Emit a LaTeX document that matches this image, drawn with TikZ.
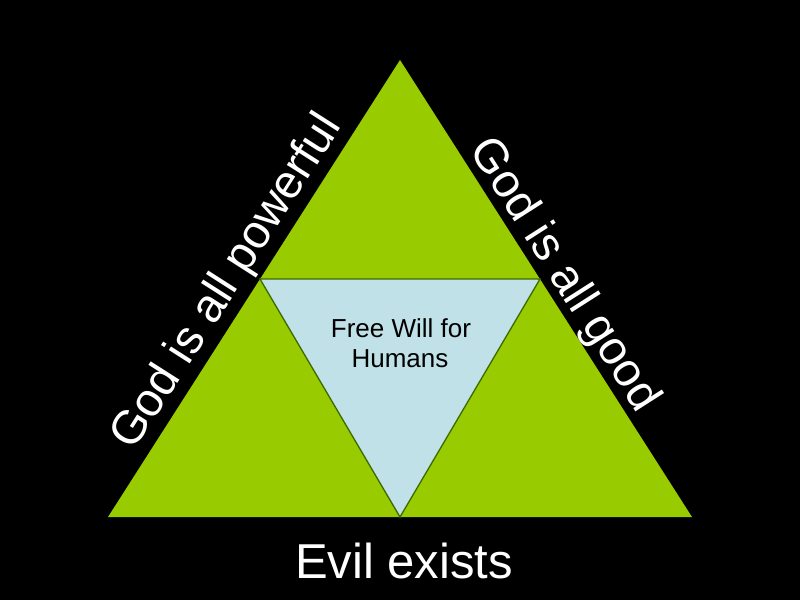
\documentclass[tikz,border=0pt]{standalone}
\usepackage{fontspec}
\setmainfont{Liberation Sans}
\definecolor{trigreen}{HTML}{99CC00}
\definecolor{triblue}{HTML}{C0E1E7}
\definecolor{edgegreen}{HTML}{3A6A00}
\begin{document}
\begin{tikzpicture}[x=1pt,y=-1pt,
  bigtext/.style={text=white,inner sep=0pt,anchor=base,font=\fontsize{47}{47}\selectfont},
  smalltext/.style={text=black,inner sep=0pt,align=center,font=\fontsize{26}{30}\selectfont}]
\fill[black] (0,0) rectangle (800,600);
\useasboundingbox (0,0) rectangle (800,600);
\coordinate (A) at (400,60);
\coordinate (B) at (108,517);
\coordinate (C) at (692,517);
\coordinate (L) at (260,279);
\coordinate (R) at (540,279);
\coordinate (M) at (400,517);
\fill[trigreen] (A) -- (B) -- (C) -- cycle;
\filldraw[fill=triblue,draw=edgegreen,line width=1.3pt,line join=miter] (L) -- (R) -- (M) -- cycle;
\node[bigtext,rotate=57.42] (pow) at (238,289) {God is all powerful};
\node[bigtext,rotate=-57.42] (good) at (553,282) {God is all good};
\node[bigtext,font=\fontsize{49}{49}\selectfont] (evil) at (404,578) {Evil exists};
\node[smalltext,anchor=base] (free) at (401,337) {Free Will for};
\node[smalltext,anchor=base] (hum) at (400,367) {Humans};
\end{tikzpicture}
\end{document}
